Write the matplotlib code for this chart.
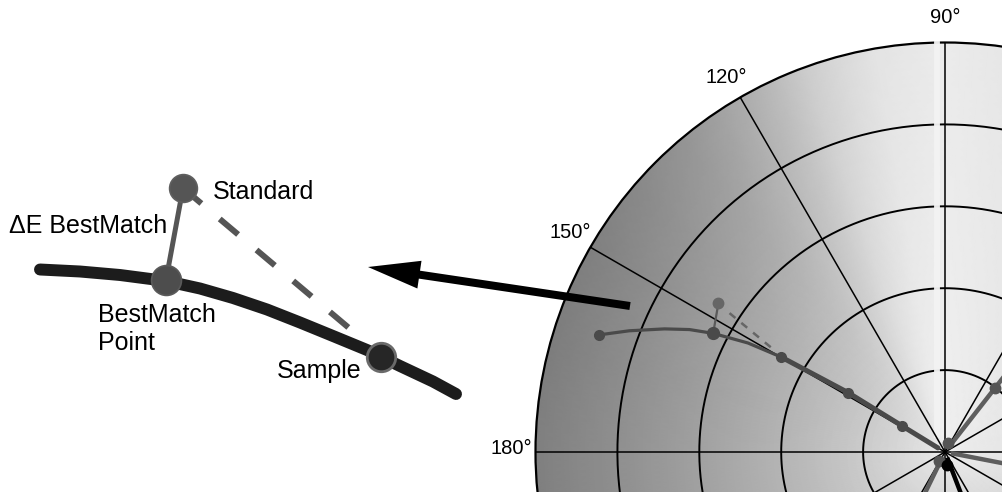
import numpy as np
import matplotlib.pyplot as plt

plt.rcParams['font.family'] = ['Liberation Sans', 'DejaVu Sans']
plt.rcParams['lines.scale_dashes'] = False

# ---- polar chart data (angle in degrees, radius in ring units) ----
arc_ang = [161.3, 159.0, 156.3, 154.4, 152.9, 151.05, 149.9]
arc_rad = [4.46, 4.13, 3.74, 3.46, 3.18, 2.75, 2.31]
ray_ang = [149.9, 148.5, 148.7, 150.0]
ray_rad = [2.31, 1.39, 0.62, 0.10]
dot_ang = [161.3, 149.9, 148.5, 148.7]
dot_rad = [4.46, 2.31, 1.39, 0.62]
bm_ang, bm_rad = 152.9, 3.18
std_ang, std_rad = 146.7, 3.31
dash_ang = [147.2, 149.1]
dash_rad = [3.13, 2.45]
# other samples leaving the view
other_ang = [52, -11, 244]
other_rad = [2.0, 1.5, 1.2]
other_dot_ang = [52, 71.6, 236]
other_dot_rad = [0.99, 0.12, 0.13]
black_ang, black_rad = 291, 1.2
black_dot = (279, 0.16)

grid_rings = [1, 2, 3, 4]
spoke_angles = np.arange(0, 360, 30)
angle_labels = ['90°', '120°', '150°', '180°']
angle_label_pos = [90, 120.3, 149.6, 179.5]

# background shading (darkness by hue angle)
shade_ang = [0, 30, 60, 80, 90, 100, 105, 110, 115, 120, 125, 130, 140, 150, 165, 180, 210, 270, 330, 360]
shade_val = [0.15, 0.12, 0.08, 0.04, 0.02, 0.05, 0.09, 0.14, 0.21, 0.27, 0.32, 0.36, 0.41, 0.44, 0.45, 0.44, 0.44, 0.44, 0.25, 0.15]

# ---- left diagram data (pixel-like units) ----
curve_x = [40, 80, 120, 166, 200, 233, 267, 300, 333, 367, 400, 433, 456]
curve_y = [269.5, 271.5, 275, 281, 288.5, 298, 309.5, 322.5, 336, 350, 366, 381.5, 394]
standard = (183, 188)
bestmatch = (166, 280)
sample = (381, 357)
dash_end = (349, 328)
arrow_from = (630, 306)
arrow_to = (368, 267)
streak_x = [937, 937]
streak_y = [41, 438]

W, H = 1003, 492
fig = plt.figure(figsize=(W / 100, H / 100), dpi=100)

cx, cy, R = 945, 452, 409.5
ax = fig.add_axes([(cx - R) / W, (H - cy - R) / H, 2 * R / W, 2 * R / H], projection='polar')
ax.set_ylim(0, 5)
ax.set_xticks([])
ax.set_yticks([])
ax.spines['polar'].set_linewidth(1.6)
ax.spines['polar'].set_color('black')

th = np.linspace(0, 360, 361)
rr = np.linspace(0, 5, 51)
T, Rg = np.meshgrid(np.deg2rad(th), rr)
dark = np.interp(th, shade_ang, shade_val)
B = 0.94 - dark[None, :] * (rr[:, None] / 5) ** 0.7
ax.pcolormesh(T, Rg, B, shading='gouraud', cmap='gray', vmin=0, vmax=1, zorder=0)

full = np.linspace(0, 2 * np.pi, 400)
for r in grid_rings:
    ax.plot(full, np.full_like(full, r), color='black', lw=1.4, zorder=2)
for a in spoke_angles:
    ax.plot([np.deg2rad(a)] * 2, [0, 5], color='black', lw=1.1, zorder=2.7)

grey = '#4a4a4a'
ax.plot(np.deg2rad(arc_ang), arc_rad, color=grey, lw=2.3, zorder=4, solid_capstyle='round')
ax.plot(np.deg2rad(ray_ang), ray_rad, color=grey, lw=3.6, zorder=4, solid_capstyle='round')
ax.plot(np.deg2rad(dot_ang), dot_rad, 'o', color=grey, ms=7, zorder=5)
ax.plot(np.deg2rad([std_ang, bm_ang]), [std_rad, bm_rad], color='#5a5a5a', lw=1.6, zorder=4)
ax.plot(np.deg2rad(std_ang), std_rad, 'o', color='#666666', ms=7.5, zorder=5)
ax.plot(np.deg2rad(bm_ang), bm_rad, 'o', color=grey, ms=8.5, zorder=5)
ax.plot(np.deg2rad(dash_ang), dash_rad, color='#666666', lw=1.8, dashes=(5.5, 5.5), zorder=4)

for a, r in zip(other_ang, other_rad):
    ax.plot(np.deg2rad([a, a]), [0.1, r], color='#5e5e5e', lw=3.2, zorder=4)
ax.plot(np.deg2rad(other_dot_ang), other_dot_rad, 'o', color='#555555', ms=7.5, zorder=5)
ax.plot(np.deg2rad([black_ang, black_ang]), [0.1, black_rad], color='black', lw=3.2, zorder=4)
ax.plot(np.deg2rad(black_dot[0]), black_dot[1], 'o', color='black', ms=7.5, zorder=5)

for lab, a in zip(angle_labels, angle_label_pos):
    ax.text(np.deg2rad(a), 5.3, lab, ha='center', va='center', fontsize=14.5, clip_on=False)

# overlay in pixel units
ov = fig.add_axes([0, 0, 1, 1])
ov.set_xlim(0, W)
ov.set_ylim(H, 0)
ov.axis('off')
ov.patch.set_alpha(0)

# light streak along 90 degrees, belongs to the polar background
ax.plot(streak_x, streak_y, color='#f3f3f3', lw=4.2, alpha=0.95, transform=ov.transData,
        zorder=2.6, clip_on=False, solid_capstyle='butt')
ax.set_ylim(0, 5)

ov.plot(curve_x, curve_y, color='#1c1c1c', lw=8.6, solid_capstyle='round', solid_joinstyle='round')
ov.plot([standard[0], bestmatch[0]], [standard[1], bestmatch[1]], color='#555555', lw=3.6)
ov.plot([standard[0], dash_end[0]], [standard[1], dash_end[1]], color='#555555', lw=4.3,
        dashes=(17.3, 17.3))
ov.plot(*standard, 'o', color='#555555', ms=20, mec='#5f5f5f', mew=1.2)
ov.plot(*bestmatch, 'o', color='#4d4d4d', ms=21.5, mec='#5a5a5a', mew=1.2)
ov.plot(*sample, 'o', color='#262626', ms=20.5, mec='#6a6a6a', mew=2)

ov.arrow(arrow_from[0], arrow_from[1], arrow_to[0] - arrow_from[0], arrow_to[1] - arrow_from[1],
         width=8, head_width=28, head_length=52, length_includes_head=True, color='black', lw=0)

fs = 18
ov.text(213, 199, 'Standard', fontsize=fs, va='baseline')
ov.text(9, 233, 'ΔE BestMatch', fontsize=fs, va='baseline')
ov.text(98, 321.5, 'BestMatch', fontsize=fs, va='baseline')
ov.text(98, 350, 'Point', fontsize=fs, va='baseline')
ov.text(277, 378, 'Sample', fontsize=fs, va='baseline')

fig.savefig('out.png', dpi=100)
